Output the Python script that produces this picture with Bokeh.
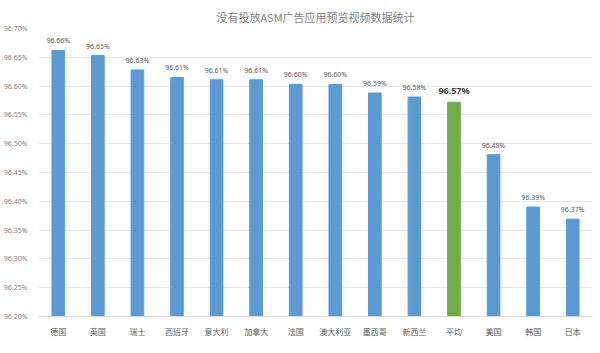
from bokeh.plotting import figure
from bokeh.models import FactorRange, Range1d, ColumnDataSource, PrintfTickFormatter, FixedTicker
from bokeh.core.properties import value
from bokeh.embed import file_html
from bokeh.resources import INLINE

categories = ["德国", "英国", "瑞士", "西班牙", "意大利", "加拿大", "法国", "澳大利亚", "墨西哥", "新西兰", "平均", "美国", "韩国", "日本"]
values = [96.662, 96.653, 96.628, 96.615, 96.611, 96.611, 96.603, 96.603, 96.588, 96.581, 96.572, 96.481, 96.390, 96.369]
labels = ["96.66%", "96.65%", "96.63%", "96.61%", "96.61%", "96.61%", "96.60%", "96.60%", "96.59%", "96.58%", "96.57%", "96.48%", "96.39%", "96.37%"]
y_ticks = [96.20, 96.25, 96.30, 96.35, 96.40, 96.45, 96.50, 96.55, 96.60, 96.65, 96.70]

colors = ["#70AD47" if c == "平均" else "#5B9BD5" for c in categories]
src = ColumnDataSource(dict(x=categories, top=values, color=colors, label=labels))

p = figure(width=600, height=353, x_range=FactorRange(*categories, range_padding=0.0),
           y_range=Range1d(96.20, 96.70), output_backend="svg", toolbar_location=None,
           min_border_left=33, min_border_right=8, min_border_top=28, min_border_bottom=37)
p.title.text = "没有投放ASM广告应用预览视频数据统计"
p.title.align = "center"
p.title.text_font = "Noto Sans CJK SC"
p.title.text_font_style = "normal"
p.title.text_font_size = "11px"
p.title.text_color = "#7f7f7f"
p.title.offset = 0
p.title.standoff = 8

p.vbar(x="x", top="top", bottom=96.20, width=0.32, color="color", source=src)

normal = ColumnDataSource(dict(x=[c for c in categories if c != "平均"],
                               y=[v for c, v in zip(categories, values) if c != "平均"],
                               t=[l for c, l in zip(categories, labels) if c != "平均"]))
p.text(x="x", y="y", text="t", source=normal, text_align="center", text_baseline="bottom",
       y_offset=-5, text_font_size="7px", text_color="#595959", text_font=value("Noto Sans"))
i = categories.index("平均")
avg = ColumnDataSource(dict(x=[categories[i]], y=[values[i]], t=[labels[i]]))
p.text(x="x", y="y", text="t", source=avg, text_align="center", text_baseline="bottom",
       y_offset=-5, text_font_size="9px", text_font_style="bold", text_color="#404040",
       text_font=value("Noto Sans"))

p.yaxis.ticker = FixedTicker(ticks=y_ticks)
p.yaxis.formatter = PrintfTickFormatter(format="%.2f%%")
p.yaxis.axis_line_color = None
p.yaxis.major_tick_line_color = None
p.yaxis.minor_tick_line_color = None
p.yaxis.major_label_text_font_size = "7px"
p.yaxis.major_label_text_color = "#7f7f7f"
p.yaxis.major_label_text_font = "Noto Sans"

p.xaxis.axis_line_color = "#d9d9d9"
p.xaxis.major_tick_line_color = None
p.xaxis.major_label_text_font_size = "8px"
p.xaxis.major_label_text_color = "#595959"
p.xaxis.major_label_text_font = "Noto Sans CJK SC"
p.xaxis.major_label_standoff = 3

p.xgrid.grid_line_color = None
p.ygrid.grid_line_color = "#e6e6e6"
p.outline_line_color = None
p.border_fill_color = "white"

open("out.html", "w").write(file_html(p, INLINE))
